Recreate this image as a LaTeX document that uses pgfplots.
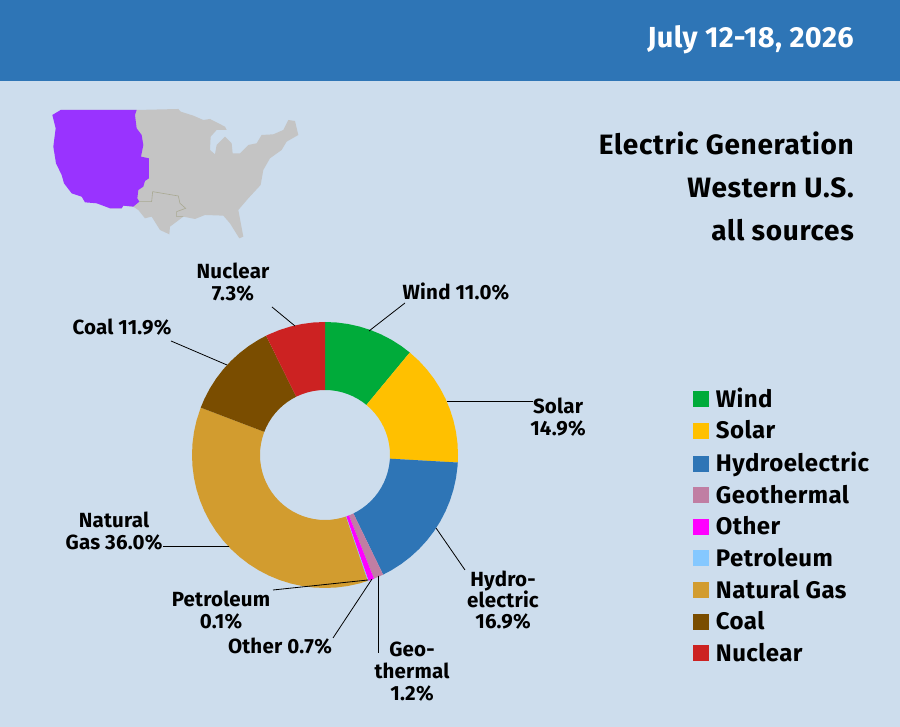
\documentclass[border=0pt]{standalone}
\usepackage{pgfplots}
\pgfplotsset{compat=1.18}
\usepackage{fontspec}
\setmainfont{Fira Sans}
\definecolor{bg}{HTML}{CDDDED}
\definecolor{hdr}{HTML}{2E75B6}
\definecolor{cwind}{HTML}{00AB3A}
\definecolor{csolar}{HTML}{FFC000}
\definecolor{chydro}{HTML}{2E75B6}
\definecolor{cgeo}{HTML}{C07EA3}
\definecolor{cother}{HTML}{FF00FF}
\definecolor{cpetro}{HTML}{85C8FF}
\definecolor{cgas}{HTML}{D29C2F}
\definecolor{ccoal}{HTML}{7A4D00}
\definecolor{cnuc}{HTML}{CC2222}
\definecolor{cmap}{HTML}{C4C4C4}
\definecolor{cmapline}{HTML}{A9A992}
\definecolor{cwest}{HTML}{9933FF}
\newcommand\lab[3]{\node[anchor=base,inner sep=0pt,font=\fontsize{20.5}{22}\selectfont\bfseries\addfontfeature{LetterSpace=1}] at (#1,#2) {#3};}
\begin{document}
\begin{tikzpicture}
\useasboundingbox (0pt,0pt) rectangle (900pt,727pt);
\fill[bg] (0pt,0pt) rectangle (900pt,727pt);
\fill[hdr] (0pt,646pt) rectangle (900pt,727pt);
\begin{scope}[x=1pt,y=-1pt,yshift=727pt]
% map (zoom coordinates of the reference crop)
\begin{scope}[shift={(40,95)},x=0.3333pt,y=-0.3333pt]
\fill[cmap] (62,45)--(290,45)--(415,42)--(422,50)--(460,62)--(490,75)--(510,72)--(555,95)--(560,105)--(530,105)--(512,125)--(510,165)--(525,178)--(530,150)--(555,125)--(575,145)--(578,175)--(600,175)--(625,150)--(650,145)--(665,120)--(700,118)--(730,105)--(745,75)--(765,78)--(775,120)--(740,140)--(725,165)--(690,190)--(670,225)--(662,270)--(625,310)--(595,345)--(610,425)--(598,430)--(570,385)--(550,362)--(495,360)--(465,372)--(430,365)--(390,395)--(388,418)--(360,405)--(335,365)--(315,370)--(295,345)--(280,335)--(250,332)--(245,340)--(210,340)--cycle;
\draw[cmapline,line width=0.6pt] (298,320)--(335,320)--(338,290)--(415,303)--(420,325)--(437,340)--(410,350)--(410,365)--(430,365);
\fill[cwest] (62,45)--(290,45)--(285,60)--(290,100)--(305,120)--(310,150)--(303,185)--(327,190)--(327,250)--(315,258)--(310,275)--(295,285)--(292,310)--(298,320)--(280,335)--(250,332)--(245,340)--(210,340)--(170,325)--(135,322)--(125,305)--(95,295)--(72,265)--(65,240)--(48,205)--(40,155)--(47,100)--(37,60)--cycle;
\end{scope}
% header and title
\node[anchor=base east,inner sep=0pt,text=white,font=\fontsize{29}{30}\selectfont\bfseries\addfontfeature{LetterSpace=1.5}] at (854,48) {July 12-18, 2026};
\node[anchor=base east,inner sep=0pt,font=\fontsize{28}{30}\selectfont\bfseries\addfontfeature{LetterSpace=2.4}] at (854,155) {Electric Generation};
\node[anchor=base east,inner sep=0pt,font=\fontsize{28}{30}\selectfont\bfseries\addfontfeature{LetterSpace=2.4}] at (854,198) {Western U.S.};
\node[anchor=base east,inner sep=0pt,font=\fontsize{28}{30}\selectfont\bfseries\addfontfeature{LetterSpace=2.4}] at (854,241) {all sources};
\end{scope}
\begin{axis}[
  at={(325pt,272pt)},anchor=center,
  axis lines=none,
  scale only axis,width=266pt,height=266pt,
  data cs=polar,
  xmin=-133,xmax=133,ymin=-133,ymax=133,
  clip=false,
  legend cell align=left,
  legend image code/.code={\fill[#1] (0pt,0pt) rectangle (16pt,16pt);\path (23pt,0pt);},
  legend style={at={(1.8825,0.7538)},anchor=north west,draw=none,fill=none,inner sep=0pt,
    row sep=13.4pt,font=\fontsize{24}{24}\selectfont\bfseries\addfontfeature{LetterSpace=1.9},
    nodes={inner sep=0pt,text depth=0pt,anchor=base west}},
]
% Wind 11.0%
\addplot[fill=cwind,draw=none] coordinates {(90,133)(85,133)(80,133)(75,133)(70,133)(65,133)(60,133)(55,133)(50.4,133)(50.4,65)(55,65)(60,65)(65,65)(70,65)(75,65)(80,65)(85,65)(90,65)};
% Solar 14.9%
\addplot[fill=csolar,draw=none] coordinates {(50.4,133)(45,133)(40,133)(35,133)(30,133)(25,133)(20,133)(15,133)(10,133)(5,133)(0,133)(-3.24,133)(-3.24,65)(0,65)(5,65)(10,65)(15,65)(20,65)(25,65)(30,65)(35,65)(40,65)(45,65)(50.4,65)};
% Hydroelectric 16.9%
\addplot[fill=chydro,draw=none] coordinates {(-3.24,133)(-5,133)(-10,133)(-15,133)(-20,133)(-25,133)(-30,133)(-35,133)(-40,133)(-45,133)(-50,133)(-55,133)(-60,133)(-64.08,133)(-64.08,65)(-60,65)(-55,65)(-50,65)(-45,65)(-40,65)(-35,65)(-30,65)(-25,65)(-20,65)(-15,65)(-10,65)(-5,65)(-3.24,65)};
% Geothermal 1.2%
\addplot[fill=cgeo,draw=none] coordinates {(-64.08,133)(-66,133)(-68.4,133)(-68.4,65)(-66,65)(-64.08,65)};
% Other 0.7%
\addplot[fill=cother,draw=none] coordinates {(-68.4,133)(-70,133)(-70.92,133)(-70.92,65)(-70,65)(-68.4,65)};
% Petroleum 0.1%
\addplot[fill=cpetro,draw=none] coordinates {(-70.92,133)(-71.28,133)(-71.28,65)(-70.92,65)};
% Natural Gas 36.0%
\addplot[fill=cgas,draw=none] coordinates {(-71.28,133)(-75,133)(-80,133)(-85,133)(-90,133)(-95,133)(-100,133)(-105,133)(-110,133)(-115,133)(-120,133)(-125,133)(-130,133)(-135,133)(-140,133)(-145,133)(-150,133)(-155,133)(-160,133)(-165,133)(-170,133)(-175,133)(-180,133)(-185,133)(-190,133)(-195,133)(-200.88,133)(-200.88,65)(-195,65)(-190,65)(-185,65)(-180,65)(-175,65)(-170,65)(-165,65)(-160,65)(-155,65)(-150,65)(-145,65)(-140,65)(-135,65)(-130,65)(-125,65)(-120,65)(-115,65)(-110,65)(-105,65)(-100,65)(-95,65)(-90,65)(-85,65)(-80,65)(-75,65)(-71.28,65)};
% Coal 11.9%
\addplot[fill=ccoal,draw=none] coordinates {(-200.88,133)(-205,133)(-210,133)(-215,133)(-220,133)(-225,133)(-230,133)(-235,133)(-240,133)(-243.72,133)(-243.72,65)(-240,65)(-235,65)(-230,65)(-225,65)(-220,65)(-215,65)(-210,65)(-205,65)(-200.88,65)};
% Nuclear 7.3%
\addplot[fill=cnuc,draw=none] coordinates {(-243.72,133)(-245,133)(-250,133)(-255,133)(-260,133)(-265,133)(-270,133)(-270,65)(-265,65)(-260,65)(-255,65)(-250,65)(-245,65)(-243.72,65)};
\legend{Wind,Solar,Hydroelectric,Geothermal,Other,Petroleum,Natural Gas,Coal,Nuclear}
\end{axis}
\begin{scope}[x=1pt,y=-1pt,yshift=727pt]
\draw[black,line width=0.8pt]
 (369,331)--(405,303)
 (447,401.5)--(533,401.5)
 (436,528)--(465,570)
 (378.5,576)--(378.5,653)
 (372,579)--(333,638)
 (368,580)--(273,590)
 (229,546.5)--(163,546.5)
 (227,365)--(171,341)
 (295,326)--(272,307);
\lab{456}{300}{Wind 11.0\%}
\lab{558}{414}{Solar}
\lab{558}{436}{14.9\%}
\lab{503}{587}{Hydro-}
\lab{503}{608}{electric}
\lab{503}{629}{16.9\%}
\lab{412}{657}{Geo-}
\lab{412}{679}{thermal}
\lab{412}{701}{1.2\%}
\lab{280}{654}{Other 0.7\%}
\lab{221}{607}{Petroleum}
\lab{221}{629}{0.1\%}
\lab{114}{528}{Natural}
\lab{114}{550}{Gas 36.0\%}
\lab{122}{335}{Coal 11.9\%}
\lab{233}{279}{Nuclear}
\lab{233}{301}{7.3\%}
\end{scope}
\end{tikzpicture}
\end{document}
